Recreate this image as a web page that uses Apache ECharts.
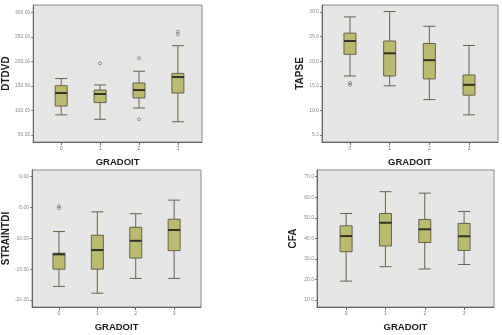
<!DOCTYPE html>
<html>
<head>
<meta charset="utf-8">
<script src="https://cdn.jsdelivr.net/npm/echarts@6/dist/echarts.min.js"></script>
<style>
  html, body { margin: 0; padding: 0; background: #fff; }
  #chart { width: 502px; height: 335px; }
</style>
</head>
<body>
<div id="chart"></div>
<script>
// groups on the x axis (GRADOIT)
const gradoit = [0, 1, 2, 3]
const gradoitLabels = ['0', '1', '2', '3']

// each box: [min, Q1, median, Q3, max]
const dtdvdBoxes = [
  [91, 109, 135.5, 150.5, 165],
  [82, 116, 133.5, 141.5, 152],
  [105, 125.5, 141.5, 156, 180],
  [77, 135.5, 168, 175.5, 232]
]
const dtdvdOutliers = [[1, 196], [2, 206.5], [2, 82], [3, 260.5], [3, 255]]
const dtdvdTicks = [50, 100, 150, 200, 250, 300]

const tapseBoxes = [
  [17.0, 21.4, 24.1, 25.7, 29.0],
  [15.0, 17.0, 21.6, 24.1, 30.1],
  [12.2, 16.4, 20.2, 23.6, 27.1],
  [9.1, 13.1, 15.2, 17.2, 23.2]
]
const tapseOutliers = [[0, 15.2], [0, 15.6]]
const tapseTicks = [5, 10, 15, 20, 25, 30]

const strainBoxes = [
  [-17.8, -15.0, -12.6, -12.4, -8.9],
  [-18.9, -15.0, -11.9, -9.5, -5.7],
  [-16.5, -13.2, -10.4, -8.2, -6.0],
  [-16.5, -12.0, -8.65, -6.9, -3.8]
]
const strainOutliers = [[0, -5.1], [0, -4.8]]
const strainTicks = [-20, -15, -10, -5, 0]

const cfaBoxes = [
  [19.2, 33.5, 41.1, 46.1, 52.1],
  [26.2, 36.3, 47.6, 52.1, 62.7],
  [25.1, 38.0, 44.4, 49.2, 62.0],
  [27.3, 34.1, 41.0, 47.3, 53.1]
]
const cfaOutliers = []
const cfaTicks = [10, 20, 30, 40, 50, 60, 70]

const boxFill = '#b9bc6f'
const plotBg = '#e6e6e6'

const panels = [
  { name: 'DTDVD', boxes: dtdvdBoxes, outliers: dtdvdOutliers, ticks: dtdvdTicks, fmt: v => v.toFixed(2),
    grid: { left: 33, top: 5, width: 169, height: 137 }, x: [-0.72, 3.62], y: [35.7, 314.9], nameGap: 18 },
  { name: 'TAPSE', boxes: tapseBoxes, outliers: tapseOutliers, ticks: tapseTicks, fmt: v => v.toFixed(1),
    grid: { left: 322, top: 5, width: 176, height: 137 }, x: [-0.705, 3.73], y: [3.58, 31.42], nameGap: 14 },
  { name: 'STRAINTDI', boxes: strainBoxes, outliers: strainOutliers, ticks: strainTicks, fmt: v => v.toFixed(2),
    grid: { left: 32, top: 170, width: 169, height: 137 }, x: [-0.70, 3.70], y: [-21.14, 1.09], nameGap: 20 },
  { name: 'CFA', boxes: cfaBoxes, outliers: cfaOutliers, ticks: cfaTicks, fmt: v => v.toFixed(1),
    grid: { left: 317, top: 170, width: 177, height: 137 }, x: [-0.74, 3.76], y: [6.6, 73.26], nameGap: 19 }
]

const grids = [], xAxes = [], yAxes = [], series = []

panels.forEach((p, i) => {
  grids.push(Object.assign({
    show: true,
    backgroundColor: plotBg,
    borderColor: '#8a8a8a',
    borderWidth: 1
  }, p.grid))

  xAxes.push({
    gridIndex: i,
    type: 'value',
    min: p.x[0],
    max: p.x[1],
    name: 'GRADOIT',
    nameLocation: 'middle',
    nameGap: 15,
    nameTextStyle: { fontFamily: 'Liberation Sans', fontWeight: 'bold', fontSize: 9.5, color: '#222' },
    splitLine: { show: false },
    axisLine: { show: true, onZero: false, lineStyle: { color: '#666' } },
    axisTick: { show: true, length: 3, customValues: gradoit, lineStyle: { color: '#666' } },
    axisLabel: {
      customValues: gradoit,
      formatter: v => gradoitLabels[gradoit.indexOf(v)] || '',
      fontSize: 5, color: '#777', margin: 4
    }
  })

  yAxes.push({
    gridIndex: i,
    type: 'value',
    min: p.y[0],
    max: p.y[1],
    name: p.name,
    nameLocation: 'middle',
    nameGap: p.nameGap,
    nameRotate: 90,
    nameTextStyle: { fontFamily: 'Liberation Sans', fontWeight: 'bold', fontSize: 10, color: '#222' },
    splitLine: { show: false },
    axisLine: { show: true, onZero: false, lineStyle: { color: '#666' } },
    axisTick: { show: true, length: 2, customValues: p.ticks, lineStyle: { color: '#777' } },
    axisLabel: {
      customValues: p.ticks,
      formatter: p.fmt,
      fontSize: 5, color: '#888', margin: 3
    }
  })

  series.push({
    type: 'boxplot',
    xAxisIndex: i,
    yAxisIndex: i,
    boxWidth: [12, 12],
    itemStyle: { color: boxFill, borderColor: '#63644a', borderWidth: 1 },
    data: p.boxes.map((b, k) => [gradoit[k]].concat(b)),
    silent: true
  })

  // thicker median bars like the reference
  series.push({
    type: 'scatter',
    xAxisIndex: i,
    yAxisIndex: i,
    symbol: 'rect',
    symbolSize: [12, 2],
    itemStyle: { color: '#1e1e1e' },
    data: p.boxes.map((b, k) => [gradoit[k], b[2]]),
    silent: true,
    z: 5
  })

  series.push({
    type: 'scatter',
    xAxisIndex: i,
    yAxisIndex: i,
    symbol: 'circle',
    symbolSize: 3,
    itemStyle: { color: 'transparent', borderColor: '#666', borderWidth: 0.8 },
    data: p.outliers,
    silent: true
  })
})

const chart = echarts.init(document.getElementById('chart'))
chart.setOption({
  animation: false,
  backgroundColor: '#fff',
  grid: grids,
  xAxis: xAxes,
  yAxis: yAxes,
  series
})
</script>
</body>
</html>
